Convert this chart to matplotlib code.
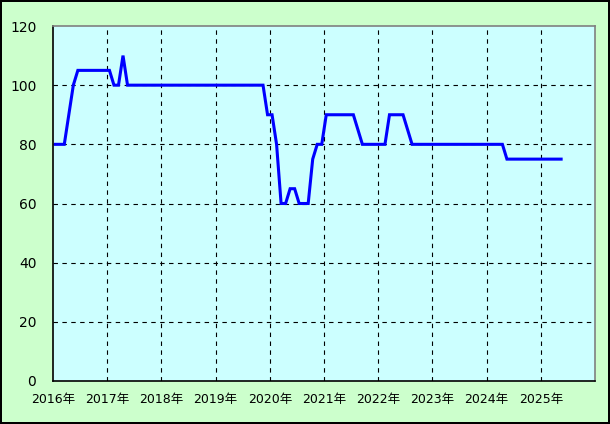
import matplotlib
matplotlib.use('Agg')
import matplotlib.pyplot as plt
import numpy as np

# monthly values starting 2016-01
start_year = 2016
values = [80, 80, 80, 90, 100, 105, 105, 105, 105, 105, 105, 105,   # 2016
          105, 100, 100, 110, 100, 100, 100, 100, 100, 100, 100, 100,  # 2017
          100, 100, 100, 100, 100, 100, 100, 100, 100, 100, 100, 100,  # 2018
          100, 100, 100, 100, 100, 100, 100, 100, 100, 100, 100, 90,   # 2019
          90, 80, 60, 60, 65, 65, 60, 60, 60, 75, 80, 80,              # 2020
          90, 90, 90, 90, 90, 90, 90, 85, 80, 80, 80, 80,              # 2021
          80, 80, 90, 90, 90, 90, 85, 80, 80, 80, 80, 80,              # 2022
          80, 80, 80, 80, 80, 80, 80, 80, 80, 80, 80, 80,              # 2023
          80, 80, 80, 80, 75, 75, 75, 75, 75, 75, 75, 75,              # 2024
          75, 75, 75, 75, 75]                                          # 2025
years = list(range(2016, 2026))
year_labels = [f'{y}年' for y in years]
yticks = [0, 20, 40, 60, 80, 100, 120]

plt.rcParams['font.family'] = ['DejaVu Sans', 'Noto Sans CJK JP']

x = start_year + (np.arange(len(values)) + 0.5) / 12

fig = plt.figure(figsize=(6.10, 4.24), dpi=100)
fig.patch.set_facecolor('#CCFFCC')
fig.patch.set_edgecolor('black')
fig.patch.set_linewidth(1.5)
ax = fig.add_axes([53 / 610, 1 - 381 / 424, 542 / 610, 355 / 424])
ax.set_facecolor('#CCFFFF')

ax.plot(x, values, color='#0000FF', linewidth=2.2, solid_joinstyle='miter')

ax.set_xlim(2016, 2026)
ax.set_ylim(0, 120)
ax.set_xticks(years)
ax.set_xticklabels(year_labels, fontsize=9)
ax.set_yticks(yticks)
ax.set_yticklabels([str(v) for v in yticks], fontsize=10)
ax.tick_params(length=0, pad=9)
ax.tick_params(axis='y', pad=12)

for v in yticks[1:-1]:
    ax.axhline(v, color='black', linewidth=0.8, linestyle=(0, (4, 4)), zorder=1)
for yr in years[1:]:
    ax.axvline(yr, color='black', linewidth=0.8, linestyle=(0, (4, 4)), zorder=1)

ax.spines['left'].set_color('black')
ax.spines['bottom'].set_color('black')
ax.spines['top'].set_color('gray')
ax.spines['right'].set_color('gray')
for s in ax.spines.values():
    s.set_linewidth(1.2)

fig.savefig('out.png', dpi=100, facecolor=fig.get_facecolor(), edgecolor=fig.get_edgecolor())
